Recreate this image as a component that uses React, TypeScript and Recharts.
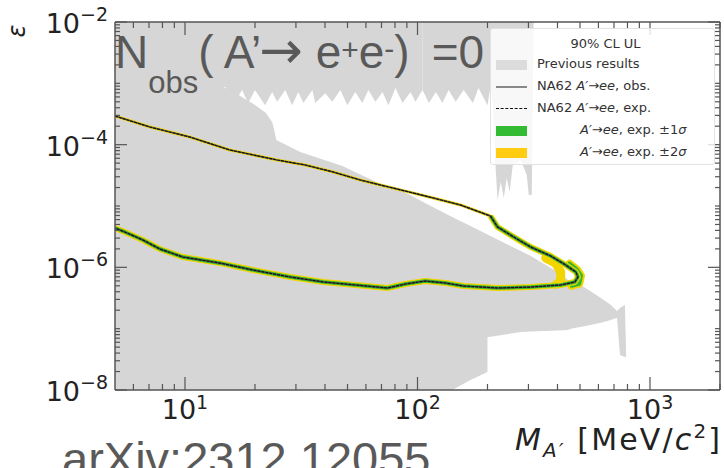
import React from "react";
import { ComposedChart, Area, Line, XAxis, YAxis, ReferenceLine } from "recharts";

const WIDTH = 724;
const HEIGHT = 468;
const PLOT_W = 605;
const PLOT_H = 368;

// NA62 exclusion contour, upper (obs) branch, M in MeV/c^2
const upperMass = [5.0, 7.07, 10.5, 15.6, 24.9, 32.9, 43.4, 56.8, 69.3, 88.7, 117, 153, 206];
const upperEps = [2.93e-4, 1.94e-4, 1.33e-4, 8.18e-5, 5.62e-5, 4.66e-5, 3.58e-5, 2.65e-5, 2.2e-5, 1.75e-5, 1.35e-5, 1.04e-5, 6.87e-6];

// tip of the contour and lower branch, back to the left edge
const lowerMass = [206, 221, 264, 307, 374, 434, 480, 490, 475, 413, 307, 221, 158, 132, 108, 88.7, 74.2, 54.1, 39.4, 28.4, 19.6, 14.2, 9.8, 7.8, 6.59, 5.51, 5.0];
const lowerEps = [6.87e-6, 4.54e-6, 3.0e-6, 2.14e-6, 1.53e-6, 1.09e-6, 8.4e-7, 6.95e-7, 5.77e-7, 5.15e-7, 4.77e-7, 4.6e-7, 4.95e-7, 5.55e-7, 5.98e-7, 5.35e-7, 4.6e-7, 5.15e-7, 5.77e-7, 6.95e-7, 9.04e-7, 1.17e-6, 1.47e-6, 1.99e-6, 2.79e-6, 3.77e-6, 4.37e-6];

// -2 sigma edge inside the tip, +1 sigma edge outside it
const tipInnerMass = [356, 393, 413, 413, 395];
const tipInnerEps = [1.42e-6, 1.17e-6, 8.4e-7, 5.9e-7, 5.3e-7];
const tipOuterMass = [450, 485, 505, 496, 460];
const tipOuterEps = [1.15e-6, 9.2e-7, 7.3e-7, 5.4e-7, 5.0e-7];

// previous results: beam-dump strip hanging from the top (lower edge)
const stripMass = [5.0, 14.9, 16.4, 17.6, 18.7, 20.0, 22.1, 23.7, 24.9, 27.0, 28.9, 30.7, 32.3, 35.3, 36.3, 40.1, 43.0, 46.6, 49.9, 54.0, 57.9, 61.5, 65.9, 70.7, 75.0, 80.4, 86.2, 93.3, 98.0, 105, 112, 120, 128, 136, 146, 158, 173, 183, 200, 206, 211, 217, 221, 228, 235, 242, 249, 257, 278, 295, 301, 310, 316];
const stripLow = [8.7e-4, 8.7e-4, 5.0e-4, 7.8e-4, 4.8e-4, 7.8e-4, 4.4e-4, 7.2e-4, 5.0e-4, 7.8e-4, 4.4e-4, 7.2e-4, 4.8e-4, 7.8e-4, 4.8e-4, 6.9e-4, 5.0e-4, 7.8e-4, 4.4e-4, 7.2e-4, 4.8e-4, 7.8e-4, 5.0e-4, 7.2e-4, 4.4e-4, 8.4e-4, 4.8e-4, 7.2e-4, 5.0e-4, 7.8e-4, 4.8e-4, 7.2e-4, 4.8e-4, 7.8e-4, 5.0e-4, 7.8e-4, 4.8e-4, 8.4e-4, 4.4e-4, 8.7e-4, 4.4e-4, 3.86e-5, 1.25e-5, 2.46e-5, 1.35e-5, 2.86e-5, 1.69e-5, 4.66e-5, 5.6e-5, 3.2e-5, 1.51e-5, 1.51e-5, 1e-2];

// previous results: main excluded region
const prevMass = [5.0, 14.3, 14.6, 17.3, 20.0, 22.3, 23.7, 24.2, 24.7, 31.3, 47.5, 69.3, 84.5, 114, 141, 169, 200, 200, 206, 278, 307, 401, 443, 456, 520, 615, 679, 700, 721, 743, 780, 790];
const prevLow = [1e-8, 1e-8, 1e-8, 1e-8, 1e-8, 1e-8, 1e-8, 1e-8, 1e-8, 1e-8, 1e-8, 1e-8, 1e-8, 1e-8, 1e-8, 1.46e-8, 1.96e-8, 7.3e-8, 7.4e-8, 8.8e-8, 9.0e-8, 9.3e-8, 9.5e-8, 1.0e-7, 1.1e-7, 1.25e-7, 1.38e-7, 1.45e-7, 1.49e-7, 3.72e-8, 3.45e-8, 3.45e-8];
const prevHigh = [1e-2, 1e-2, 8.7e-4, 6.2e-4, 4.44e-4, 3.28e-4, 2.34e-4, 1.73e-4, 1.19e-4, 7.6e-5, 4.49e-5, 2.28e-5, 1.82e-5, 1.0e-5, 6.6e-6, 4.72e-6, 3.43e-6, 3.43e-6, 3.24e-6, 1.85e-6, 1.53e-6, 8.4e-7, 6.3e-7, 5.77e-7, 4.77e-7, 3.16e-7, 2.43e-7, 2.17e-7, 1.94e-7, 2.17e-7, 2.43e-7, 3.45e-8];

const xMajor = [10, 100, 1000];
const xMajorExp = ["1", "2", "3"];
const yMajor = [1e-8, 1e-6, 1e-4, 1e-2];
const yMajorExp = ["\u22128", "\u22126", "\u22124", "\u22122"];

const xTicks: number[] = [];
[1, 10, 100, 1000].forEach((d) => {
  for (let k = 1; k <= 9; k++) if (d * k > 5 && d * k <= 2000) xTicks.push(d * k);
});
const yTicks: number[] = [];
for (let e = -8; e <= -3; e++) {
  for (let k = 1; k <= 9; k++) yTicks.push(Number((k * Math.pow(10, e)).toPrecision(3)));
}
yTicks.push(1e-2);

const pts = (m: number[], e: number[]) => m.map((mass, i) => ({ mass, eps: e[i] }));
const upperRows = pts(upperMass, upperEps);
const lowerRows = pts(lowerMass, lowerEps);
const tipInRows = pts(tipInnerMass, tipInnerEps);
const tipOutRows = pts(tipOuterMass, tipOuterEps);
// the strip is filled in two pieces that share the 105 MeV point
const stripLeft = pts(stripMass.slice(0, 30), stripLow.slice(0, 30));
const stripRight = pts(stripMass.slice(29), stripLow.slice(29));
const prevRows = prevMass.map((mass, i) => ({ mass, range: [prevLow[i], prevHigh[i]] }));

const AXIS = "#555555";
const GRAY = "#d6d6d6";
const GREEN = "#2eb82e";
const YELLOW = "#f2d400";
const TICK_FONT = "'DejaVu Sans', sans-serif";
const SLIDE_FONT = "'Liberation Sans', Arial, sans-serif";

const YTick = (props: any) => {
  const { x, y, payload } = props;
  const idx = yMajor.indexOf(payload.value);
  const len = idx >= 0 ? 12 : 5;
  return (
    <g>
      <line x1={x} x2={x + len} y1={y} y2={y} stroke={AXIS} strokeWidth={1.2} />
      <line x1={x + PLOT_W} x2={x + PLOT_W - len} y1={y} y2={y} stroke={AXIS} strokeWidth={1.2} />
      {idx >= 0 && (
        <text x={x - 7} y={y + 11} textAnchor="end" fontFamily={TICK_FONT} fontSize={27} fill="#222">
          10
          <tspan dy={-12} fontSize={19}>{yMajorExp[idx]}</tspan>
        </text>
      )}
    </g>
  );
};

const XTick = (props: any) => {
  const { x, y, payload } = props;
  const idx = xMajor.indexOf(payload.value);
  const len = idx >= 0 ? 13 : 6;
  return (
    <g>
      <line x1={x} x2={x} y1={y} y2={y - len} stroke={AXIS} strokeWidth={1.2} />
      <line x1={x} x2={x} y1={y - PLOT_H} y2={y - PLOT_H + len} stroke={AXIS} strokeWidth={1.2} />
      {idx >= 0 && (
        <text x={x} y={y + 29} textAnchor="middle" fontFamily={TICK_FONT} fontSize={27} fill="#222">
          10
          <tspan dy={-10} fontSize={19}>{xMajorExp[idx]}</tspan>
        </text>
      )}
    </g>
  );
};

const Patch = ({ color }: { color: string }) => (
  <span style={{ position: "absolute", left: 5, top: 4, width: 31, height: 10, background: color }} />
);

const LegendRow = ({ top, left, children, marker }: any) => (
  <div style={{ position: "absolute", top, left: 0, width: 225, height: 18 }}>
    {marker}
    <span style={{ position: "absolute", left, top: 0, whiteSpace: "nowrap" }}>{children}</span>
  </div>
);

const Arrow = () => (
  <>
    <i>A</i>
    <i>{"\u2032"}</i>
    {"\u2192"}
    <i>ee</i>
  </>
);

const line = { dot: false, activeDot: false, isAnimationActive: false, strokeLinejoin: "round" as const };

export default function App() {
  return (
    <div style={{ position: "absolute", left: 0, top: 0, width: WIDTH, height: HEIGHT, background: "#fff", overflow: "hidden" }}>
      <ComposedChart width={WIDTH} height={HEIGHT} margin={{ top: 22, right: 4, bottom: 48, left: 55 }}>
        <XAxis
          dataKey="mass"
          type="number"
          scale="log"
          domain={[5, 2000]}
          allowDataOverflow
          ticks={xTicks}
          interval={0}
          height={30}
          tickSize={0}
          tickMargin={0}
          tick={<XTick />}
          axisLine={{ stroke: AXIS, strokeWidth: 1.5 }}
        />
        <YAxis
          type="number"
          scale="log"
          domain={[1e-8, 1e-2]}
          allowDataOverflow
          ticks={yTicks}
          interval={0}
          width={60}
          tickSize={0}
          tickMargin={0}
          tick={<YTick />}
          axisLine={{ stroke: AXIS, strokeWidth: 1.5 }}
        />
        <Area data={stripLeft} dataKey="eps" baseValue={1e-2} type="linear" stroke="none" fill={GRAY} fillOpacity={1} isAnimationActive={false} />
        <Area data={stripRight} dataKey="eps" baseValue={1e-2} type="linear" stroke="none" fill={GRAY} fillOpacity={1} isAnimationActive={false} />
        <Area data={prevRows} dataKey="range" type="linear" stroke="none" fill={GRAY} fillOpacity={1} isAnimationActive={false} />
        <Line data={upperRows} dataKey="eps" stroke={YELLOW} strokeWidth={3} {...line} />
        <Line data={tipOutRows} dataKey="eps" stroke={YELLOW} strokeWidth={8} strokeLinecap="round" {...line} />
        <Line data={tipOutRows} dataKey="eps" stroke={GREEN} strokeWidth={4} strokeLinecap="round" {...line} />
        <Line data={lowerRows} dataKey="eps" stroke={YELLOW} strokeWidth={6} {...line} />
        <Line data={tipInRows} dataKey="eps" stroke={YELLOW} strokeWidth={9} strokeLinecap="round" {...line} />
        <Line data={lowerRows} dataKey="eps" stroke={GREEN} strokeWidth={3.5} {...line} />
        <Line data={upperRows} dataKey="eps" stroke="#555" strokeWidth={1.6} {...line} />
        <Line data={lowerRows} dataKey="eps" stroke="#555" strokeWidth={1.6} {...line} />
        <Line data={upperRows} dataKey="eps" stroke="#111" strokeWidth={1.2} strokeDasharray="3 1" {...line} />
        <Line data={lowerRows} dataKey="eps" stroke="#111" strokeWidth={1.2} strokeDasharray="3 1" {...line} />
        <ReferenceLine y={1e-2} stroke={AXIS} strokeWidth={1.5} ifOverflow="visible" />
        <ReferenceLine x={2000} stroke={AXIS} strokeWidth={1.5} ifOverflow="visible" />
      </ComposedChart>

      <div
        style={{
          position: "absolute",
          left: 490,
          top: 28,
          width: 225,
          height: 137,
          background: "rgba(255,255,255,0.82)",
          border: "1px solid #e2e2e2",
          borderRadius: 3,
          boxSizing: "border-box",
          fontFamily: TICK_FONT,
          fontSize: 13,
          color: "#333",
        }}
      >
        <div style={{ position: "absolute", top: 7, left: 0, width: 225, textAlign: "center", paddingLeft: 4, boxSizing: "border-box" }}>90% CL UL</div>
        <LegendRow top={27} left={46} marker={<Patch color="#dcdcdc" />}>Previous results</LegendRow>
        <LegendRow
          top={49}
          left={46}
          marker={<span style={{ position: "absolute", left: 5, top: 8, width: 31, height: 2, background: "#888" }} />}
        >
          NA62 <Arrow />, obs.
        </LegendRow>
        <LegendRow
          top={71}
          left={46}
          marker={<span style={{ position: "absolute", left: 5, top: 8, width: 31, height: 0, borderTop: "1.3px dashed #111" }} />}
        >
          NA62 <Arrow />, exp.
        </LegendRow>
        <LegendRow top={93} left={89} marker={<Patch color="#33bb33" />}>
          <Arrow />, exp. ±1<i>σ</i>
        </LegendRow>
        <LegendRow top={115} left={89} marker={<Patch color="#ffcc11" />}>
          <Arrow />, exp. ±2<i>σ</i>
        </LegendRow>
      </div>

      <svg width={WIDTH} height={HEIGHT} style={{ position: "absolute", left: 0, top: 0, pointerEvents: "none" }}>
        <text x={25} y={31} transform="rotate(-90 25 31)" textAnchor="middle" fontFamily={TICK_FONT} fontStyle="italic" fontSize={24} fill="#222">
          ε
        </text>
        <text x={515} y={450} textLength={205} lengthAdjust="spacing" fontFamily={TICK_FONT} fontSize={30} fill="#222">
          <tspan fontStyle="italic">M</tspan>
          <tspan fontStyle="italic" fontSize={20} dy={7}>A′</tspan>
          <tspan dy={-7}> [MeV/</tspan>
          <tspan fontStyle="italic">c</tspan>
          <tspan fontSize={20} dy={-12}>2</tspan>
          <tspan dy={12}>]</tspan>
        </text>
        <text x={115} y={68} fontFamily={SLIDE_FONT} fontSize={46} fill="#595959">
          N
          <tspan fontSize={31} dy={25}>obs</tspan>
          <tspan dy={-25}>( A’</tspan>
          <tspan fontFamily={TICK_FONT} fontSize={52} dx={-2}>→</tspan>
          <tspan> e</tspan>
          <tspan fontSize={30} dy={-8}>+</tspan>
          <tspan dy={8}>e</tspan>
          <tspan fontSize={30} dy={-9}>-</tspan>
          <tspan dy={9}>)</tspan>
          <tspan dx={22}>=0</tspan>
        </text>
        <text x={62} y={475} fontFamily={SLIDE_FONT} fontSize={47} fill="#595959">
          arXiv:2312.12055
        </text>
      </svg>
    </div>
  );
}
